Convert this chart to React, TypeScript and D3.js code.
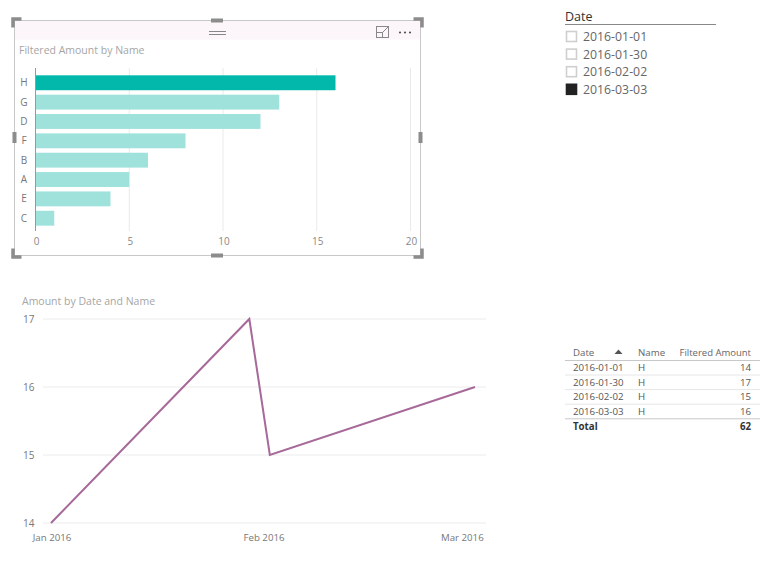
import React from "react";
import * as d3 from "d3";

const names = ["H", "G", "D", "F", "B", "A", "E", "C"];
const filteredAmounts = [16, 13, 12, 8, 6, 5, 4, 1];
const highlighted = "H";
const barTicks = [0, 5, 10, 15, 20];

const dates = ["2016-01-01", "2016-01-30", "2016-02-02", "2016-03-03"];
const amounts = [14, 17, 15, 16];
const lineTicks = [14, 15, 16, 17];
const monthTicks = ["2016-01-01", "2016-02-01", "2016-03-01"];

const slicerDates = ["2016-01-01", "2016-01-30", "2016-02-02", "2016-03-03"];
const slicerSelected = [false, false, false, true];

const tableNames = ["H", "H", "H", "H"];
const tableTotal = 62;

const FONT = "'Open Sans', 'Segoe UI', sans-serif";

export default function App() {
  const parse = d3.utcParse("%Y-%m-%d");
  const fmtMonth = d3.utcFormat("%b %Y");

  // Bar chart
  const bx = d3.scaleLinear().domain([0, 20]).range([35.5, 410.5]);
  const by = d3.scaleBand<string>().domain(names).range([73, 228]).paddingInner(0.23).paddingOuter(0.12);

  // Line chart
  const lx = d3.scaleUtc().domain([parse("2016-01-01")!, parse("2016-03-03")!]).range([51, 475]);
  const ly = d3.scaleLinear().domain([14, 17]).range([523, 319]);
  const lineGen = d3
    .line<number>()
    .x((_, i) => lx(parse(dates[i])!))
    .y((d) => ly(d));

  const frame = { x0: 14.5, y0: 20.5, x1: 420.5, y1: 255.5 };
  const hc = "#8c8c8c";

  return (
    <svg width={760} height={565} style={{ position: "absolute", left: 0, top: 0, background: "#fff" }} fontFamily={FONT}>
      {/* Bar chart visual frame */}
      <rect x={frame.x0} y={frame.y0} width={frame.x1 - frame.x0} height={19} fill="#fcf6fb" />
      <rect x={frame.x0} y={frame.y0} width={frame.x1 - frame.x0} height={frame.y1 - frame.y0} fill="none" stroke="#c8c8c8" strokeWidth={1} />
      {/* corner handles */}
      <path d={`M${frame.x0 - 1.5},${frame.y0 + 7} V${frame.y0 - 1.5} H${frame.x0 + 7}`} stroke={hc} strokeWidth={3.5} fill="none" />
      <path d={`M${frame.x1 - 7},${frame.y0 - 1.5} H${frame.x1 + 1.5} V${frame.y0 + 7}`} stroke={hc} strokeWidth={3.5} fill="none" />
      <path d={`M${frame.x0 - 1.5},${frame.y1 - 7} V${frame.y1 + 1.5} H${frame.x0 + 7}`} stroke={hc} strokeWidth={3.5} fill="none" />
      <path d={`M${frame.x1 - 7},${frame.y1 + 1.5} H${frame.x1 + 1.5} V${frame.y1 - 7}`} stroke={hc} strokeWidth={3.5} fill="none" />
      {/* mid handles */}
      <rect x={211} y={18.5} width={12} height={4} fill={hc} />
      <rect x={211} y={253.5} width={12} height={4} fill={hc} />
      <rect x={12.5} y={132} width={4} height={11} fill={hc} />
      <rect x={418.5} y={132} width={4} height={11} fill={hc} />
      {/* grip */}
      <line x1={209} x2={226} y1={31.5} y2={31.5} stroke="#888" strokeWidth={1} />
      <line x1={209} x2={226} y1={34.5} y2={34.5} stroke="#888" strokeWidth={1} />
      {/* focus icon & ellipsis */}
      <rect x={376.5} y={26.5} width={12} height={11} fill="none" stroke="#888" strokeWidth={1} />
      <rect x={376.5} y={32.5} width={6} height={5} fill="none" stroke="#888" strokeWidth={1} />
      <line x1={383} x2={389} y1={32} y2={26} stroke="#888" strokeWidth={1} />
      {[0, 1, 2].map((i) => (
        <circle key={i} cx={400 + i * 5} cy={32.5} r={1.1} fill="#555" />
      ))}

      <text x={19} y={54} fontSize={10.5} fill="#a6a6a6">Filtered Amount by Name</text>

      {/* gridlines */}
      {barTicks.slice(1).map((t) => (
        <line key={t} x1={bx(t)} x2={bx(t)} y1={68} y2={231} stroke="#eaeaea" strokeWidth={1} />
      ))}
      {names.map((n, i) => (
        <rect
          key={n}
          x={bx(0)}
          y={by(n)!}
          width={bx(filteredAmounts[i]) - bx(0)}
          height={by.bandwidth()}
          fill={n === highlighted ? "#01B8AA" : "#9FE2DC"}
        />
      ))}
      <line x1={bx(0)} x2={bx(0)} y1={68} y2={231} stroke="#999" strokeWidth={1} />
      {barTicks.map((t) => (
        <text key={t} x={bx(t) + 1} y={245} fontSize={10} fill="#888" textAnchor="middle">{t}</text>
      ))}
      {names.map((n) => (
        <text key={n} x={24} y={by(n)! + by.bandwidth() / 2 + 3.5} fontSize={10} fill="#777" textAnchor="middle">{n}</text>
      ))}

      {/* Slicer */}
      <text x={565} y={21} fontSize={12.5} fill="#333">Date</text>
      <line x1={565} x2={716} y1={24.5} y2={24.5} stroke="#888" strokeWidth={1} />
      {slicerDates.map((d, i) => {
        const cy = 36.5 + i * 17.6;
        return (
          <g key={d}>
            <rect
              x={566.5}
              y={cy - 5}
              width={10}
              height={10}
              fill={slicerSelected[i] ? "#222" : "#fff"}
              stroke={slicerSelected[i] ? "#222" : "#cfcfcf"}
              strokeWidth={1.6}
            />
            <text x={583} y={cy + 4.5} fontSize={12.3} fill="#666">{d}</text>
          </g>
        );
      })}

      {/* Line chart */}
      <text x={22} y={305} fontSize={10.5} fill="#a6a6a6">Amount by Date and Name</text>
      {lineTicks.map((t) => (
        <g key={t}>
          <line x1={43} x2={486} y1={ly(t)} y2={ly(t)} stroke="#ececec" strokeWidth={1} />
          <text x={23} y={ly(t) + 3.5} fontSize={10} fill="#777">{t}</text>
        </g>
      ))}
      {monthTicks.map((m) => (
        <text key={m} x={lx(parse(m)!) + 1} y={541} fontSize={9.7} fill="#777" textAnchor="middle">{fmtMonth(parse(m)!)}</text>
      ))}
      <path d={lineGen(amounts)!} fill="none" stroke="#A66999" strokeWidth={2} strokeLinejoin="miter" />

      {/* Table */}
      <text x={573} y={356} fontSize={9.7} fill="#666">Date</text>
      <path d="M614.5,354 L622.5,354 L618.5,349.5 Z" fill="#555" />
      <text x={638} y={356} fontSize={9.7} fill="#666">Name</text>
      <text x={751} y={356} fontSize={9.5} fill="#666" textAnchor="end">Filtered Amount</text>
      <line x1={565} x2={760} y1={360.5} y2={360.5} stroke="#c8c8c8" strokeWidth={1} />
      {dates.map((d, i) => {
        const y = 367.5 + i * 14.6;
        return (
          <g key={d}>
            <text x={573} y={y + 3.5} fontSize={9.7} fill="#555">{d}</text>
            <text x={638} y={y + 3.5} fontSize={9.7} fill="#555">{tableNames[i]}</text>
            <text x={751} y={y + 3.5} fontSize={9.7} fill="#555" textAnchor="end">{amounts[i]}</text>
            <line x1={565} x2={760} y1={y + 7.5} y2={y + 7.5} stroke={i === dates.length - 1 ? "#c8c8c8" : "#e6e6e6"} strokeWidth={1} />
          </g>
        );
      })}
      <text x={573} y={429.5} fontSize={9.7} fill="#333" fontWeight="bold">Total</text>
      <text x={751} y={429.5} fontSize={9.7} fill="#333" fontWeight="bold" textAnchor="end">{tableTotal}</text>
    </svg>
  );
}
